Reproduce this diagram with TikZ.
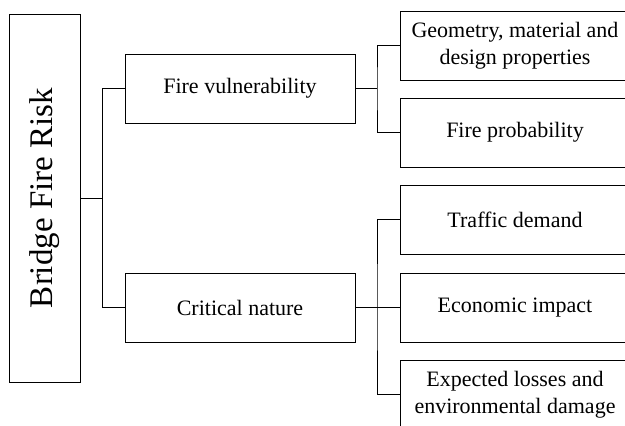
\documentclass[tikz,border=0pt]{standalone}
\usepackage{fontspec}
\setmainfont{Liberation Serif}
\usepackage{tikz}

\tikzset{
  riskbox/.style={rectangle, draw, line width=0.9pt, minimum width=230pt, minimum height=69pt, inner sep=0pt, align=center, font=\fontsize{22}{27.5}\selectfont},
  rootbox/.style={rectangle, draw, line width=0.9pt, minimum width=71pt, minimum height=368pt, inner sep=0pt, font=\fontsize{33}{40}\selectfont},
  link/.style={line width=0.9pt}
}

\begin{document}
\begin{tikzpicture}[x=1pt, y=-1pt]
\useasboundingbox (0,0) rectangle (625,426);
\node[rootbox] (root) at (44.5,198) {\rotatebox{90}{Bridge Fire Risk}};
\node[riskbox] (vulnerability) at (240,88.5) {Fire vulnerability};
\node[riskbox] (critical) at (240,307.5) {Critical nature};
\node[riskbox] (geometry) at (515,45.5) {Geometry, material and\\design properties};
\node[riskbox] (probability) at (515,132.5) {Fire probability};
\node[riskbox] (traffic) at (515,219.5) {Traffic demand};
\node[riskbox] (economic) at (515,307.5) {Economic impact};
\node[riskbox] (losses) at (515,394.5) {Expected losses and\\environmental damage};

\coordinate (rootbus) at (102,198);
\coordinate (vulnbus) at (377,88.5);
\coordinate (critbus) at (377,307.5);

\draw[link] (root.east) -- (rootbus) |- (vulnerability.west);
\draw[link] (rootbus) |- (critical.west);
\draw[link] (vulnerability.east) -- (vulnbus);
\draw[link] (geometry.west) -| (vulnbus) |- (probability.west);
\draw[link] (critical.east) -- (critbus) -- (economic.west);
\draw[link] (traffic.west) -| (critbus) |- (losses.west);
\end{tikzpicture}
\end{document}
